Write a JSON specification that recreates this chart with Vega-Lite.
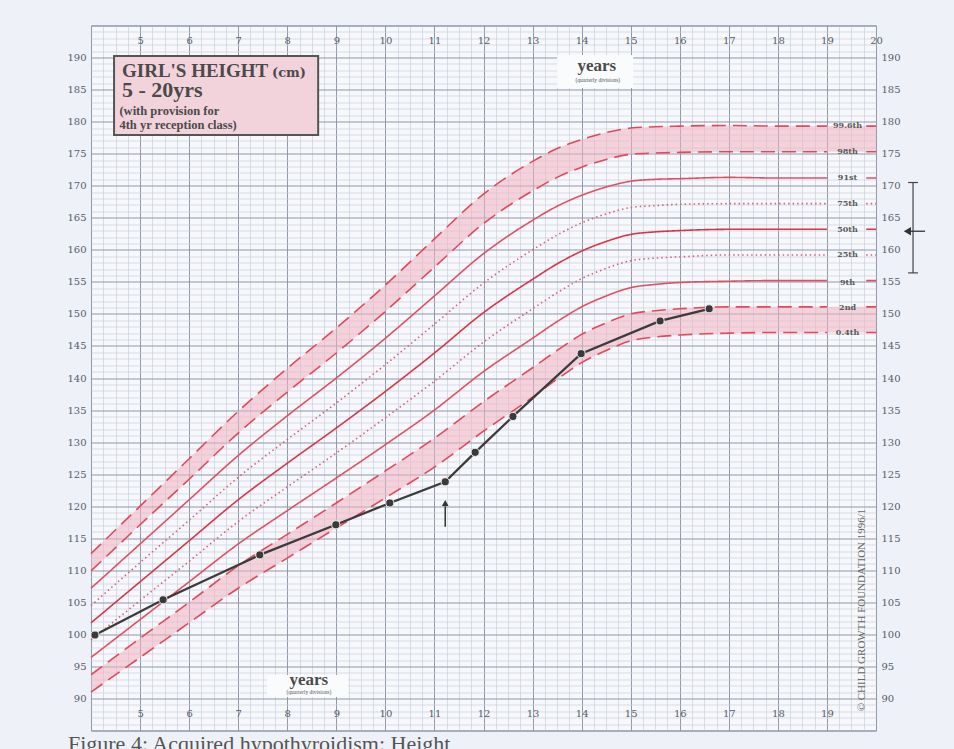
{
  "$schema": "https://vega.github.io/schema/vega-lite/v6.json",
  "width": 785,
  "height": 705,
  "autosize": {"type": "none"},
  "padding": {"left": 91, "top": 25.5, "right": 78, "bottom": 18.5},
  "background": "#eef2f8",
  "config": {
    "view": {"fill": "#f6f8fb", "stroke": "#8a93a6", "strokeWidth": 1},
    "text": {"font": "Liberation Serif"}
  },
  "datasets": {
    "curves": [
      {"age": 4, "p996": 112.6, "p98": 109.9, "p91": 107.2, "p75": 104.5, "p50": 101.8, "p25": 99.1, "p9": 96.4, "p2": 93.7, "p04": 91.0},
      {"age": 5, "p996": 120.0, "p98": 117.1, "p91": 114.1, "p75": 111.2, "p50": 108.2, "p25": 105.3, "p9": 102.3, "p2": 99.4, "p04": 96.4},
      {"age": 6, "p996": 127.4, "p98": 124.2, "p91": 121.0, "p75": 117.8, "p50": 114.6, "p25": 111.4, "p9": 108.2, "p2": 105.0, "p04": 101.8},
      {"age": 7, "p996": 134.8, "p98": 131.4, "p91": 127.9, "p75": 124.5, "p50": 121.0, "p25": 117.6, "p9": 114.1, "p2": 110.7, "p04": 107.2},
      {"age": 8, "p996": 141.5, "p98": 137.8, "p91": 134.1, "p75": 130.4, "p50": 126.7, "p25": 123.0, "p9": 119.3, "p2": 115.6, "p04": 111.9},
      {"age": 9, "p996": 147.8, "p98": 143.9, "p91": 140.0, "p75": 136.1, "p50": 132.2, "p25": 128.3, "p9": 124.4, "p2": 120.5, "p04": 116.6},
      {"age": 10, "p996": 154.5, "p98": 150.4, "p91": 146.2, "p75": 142.1, "p50": 137.9, "p25": 133.8, "p9": 129.6, "p2": 125.5, "p04": 121.3},
      {"age": 11, "p996": 161.7, "p98": 157.3, "p91": 152.8, "p75": 148.4, "p50": 143.9, "p25": 139.5, "p9": 135.0, "p2": 130.6, "p04": 126.1},
      {"age": 12, "p996": 168.7, "p98": 164.1, "p91": 159.4, "p75": 154.8, "p50": 150.2, "p25": 145.6, "p9": 141.0, "p2": 136.3, "p04": 131.7},
      {"age": 13, "p996": 173.8, "p98": 169.2, "p91": 164.6, "p75": 160.0, "p50": 155.4, "p25": 150.8, "p9": 146.2, "p2": 141.6, "p04": 137.0},
      {"age": 13.5, "p996": 175.8, "p98": 171.3, "p91": 166.8, "p75": 162.3, "p50": 157.8, "p25": 153.3, "p9": 148.8, "p2": 144.3, "p04": 139.8},
      {"age": 14, "p996": 177.2, "p98": 172.9, "p91": 168.5, "p75": 164.2, "p50": 159.8, "p25": 155.5, "p9": 151.1, "p2": 146.8, "p04": 142.4},
      {"age": 14.5, "p996": 178.3, "p98": 174.1, "p91": 169.8, "p75": 165.6, "p50": 161.3, "p25": 157.1, "p9": 152.8, "p2": 148.6, "p04": 144.3},
      {"age": 15, "p996": 179.0, "p98": 174.9, "p91": 170.7, "p75": 166.6, "p50": 162.4, "p25": 158.3, "p9": 154.1, "p2": 150.0, "p04": 145.8},
      {"age": 15.5, "p996": 179.2, "p98": 175.1, "p91": 171.0, "p75": 166.9, "p50": 162.8, "p25": 158.7, "p9": 154.6, "p2": 150.5, "p04": 146.4},
      {"age": 16, "p996": 179.3, "p98": 175.2, "p91": 171.1, "p75": 167.1, "p50": 163.0, "p25": 158.9, "p9": 154.9, "p2": 150.8, "p04": 146.7},
      {"age": 17, "p996": 179.4, "p98": 175.3, "p91": 171.3, "p75": 167.2, "p50": 163.2, "p25": 159.2, "p9": 155.1, "p2": 151.1, "p04": 147.0},
      {"age": 18, "p996": 179.3, "p98": 175.3, "p91": 171.2, "p75": 167.2, "p50": 163.2, "p25": 159.2, "p9": 155.2, "p2": 151.1, "p04": 147.1},
      {"age": 19, "p996": 179.3, "p98": 175.3, "p91": 171.2, "p75": 167.2, "p50": 163.2, "p25": 159.2, "p9": 155.2, "p2": 151.1, "p04": 147.1},
      {"age": 19.4, "p996": null, "p98": null, "p91": null, "p75": null, "p50": null, "p25": null, "p9": null, "p2": null, "p04": null},
      {"age": 19.8, "p996": 179.3, "p98": 175.3, "p91": 171.2, "p75": 167.2, "p50": 163.2, "p25": 159.2, "p9": 155.2, "p2": 151.1, "p04": 147.1},
      {"age": 20, "p996": 179.3, "p98": 175.3, "p91": 171.2, "p75": 167.2, "p50": 163.2, "p25": 159.2, "p9": 155.2, "p2": 151.1, "p04": 147.1}
    ],
    "bands": [
      {"age": 4, "p996": 112.6, "p98": 109.9, "p2": 93.7, "p04": 91.0},
      {"age": 5, "p996": 120.0, "p98": 117.1, "p2": 99.4, "p04": 96.4},
      {"age": 6, "p996": 127.4, "p98": 124.2, "p2": 105.0, "p04": 101.8},
      {"age": 7, "p996": 134.8, "p98": 131.4, "p2": 110.7, "p04": 107.2},
      {"age": 8, "p996": 141.5, "p98": 137.8, "p2": 115.6, "p04": 111.9},
      {"age": 9, "p996": 147.8, "p98": 143.9, "p2": 120.5, "p04": 116.6},
      {"age": 10, "p996": 154.5, "p98": 150.4, "p2": 125.5, "p04": 121.3},
      {"age": 11, "p996": 161.7, "p98": 157.3, "p2": 130.6, "p04": 126.1},
      {"age": 12, "p996": 168.7, "p98": 164.1, "p2": 136.3, "p04": 131.7},
      {"age": 13, "p996": 173.8, "p98": 169.2, "p2": 141.6, "p04": 137.0},
      {"age": 13.5, "p996": 175.8, "p98": 171.3, "p2": 144.3, "p04": 139.8},
      {"age": 14, "p996": 177.2, "p98": 172.9, "p2": 146.8, "p04": 142.4},
      {"age": 14.5, "p996": 178.3, "p98": 174.1, "p2": 148.6, "p04": 144.3},
      {"age": 15, "p996": 179.0, "p98": 174.9, "p2": 150.0, "p04": 145.8},
      {"age": 15.5, "p996": 179.2, "p98": 175.1, "p2": 150.5, "p04": 146.4},
      {"age": 16, "p996": 179.3, "p98": 175.2, "p2": 150.8, "p04": 146.7},
      {"age": 17, "p996": 179.4, "p98": 175.3, "p2": 151.1, "p04": 147.0},
      {"age": 18, "p996": 179.3, "p98": 175.3, "p2": 151.1, "p04": 147.1},
      {"age": 20, "p996": 179.3, "p98": 175.3, "p2": 151.1, "p04": 147.1}
    ],
    "labels": [
      {"pct": "99.6th", "h": 179.3},
      {"pct": "98th", "h": 175.3},
      {"pct": "91st", "h": 171.2},
      {"pct": "75th", "h": 167.1},
      {"pct": "50th", "h": 163.1},
      {"pct": "25th", "h": 159.2},
      {"pct": "9th", "h": 154.9},
      {"pct": "2nd", "h": 151.0},
      {"pct": "0.4th", "h": 147.0}
    ],
    "patient": [
      {"age": 4.08, "height": 99.9},
      {"age": 5.47, "height": 105.4},
      {"age": 7.44, "height": 112.4},
      {"age": 8.99, "height": 117.1},
      {"age": 10.09, "height": 120.5},
      {"age": 11.22, "height": 123.8},
      {"age": 11.83, "height": 128.4},
      {"age": 12.6, "height": 134.0},
      {"age": 13.99, "height": 143.8},
      {"age": 15.6, "height": 148.9},
      {"age": 16.6, "height": 150.8}
    ]
  },
  "resolve": {"axis": {"x": "independent", "y": "independent"}},
  "layer": [
    {
      "data": {"name": "bands"},
      "mark": {"type": "area", "interpolate": "monotone", "fill": "#f3b3c3", "opacity": 0.55},
      "encoding": {
        "x": {
          "field": "age", "type": "quantitative",
          "scale": {"domain": [4, 20], "nice": false, "zero": false},
          "axis": {
            "orient": "bottom", "offset": -24, "title": null, "grid": true, "ticks": false, "domain": false,
            "values": [4,4.25,4.5,4.75,5,5.25,5.5,5.75,6,6.25,6.5,6.75,7,7.25,7.5,7.75,8,8.25,8.5,8.75,9,9.25,9.5,9.75,10,10.25,10.5,10.75,11,11.25,11.5,11.75,12,12.25,12.5,12.75,13,13.25,13.5,13.75,14,14.25,14.5,14.75,15,15.25,15.5,15.75,16,16.25,16.5,16.75,17,17.25,17.5,17.75,18,18.25,18.5,18.75,19,19.25,19.5,19.75,20],
            "labelExpr": "datum.value % 1 === 0 && datum.value >= 5 && datum.value <= 19 ? format(datum.value, 'd') : ''",
            "labelOverlap": false, "labelBound": false, "labelFlush": false, "labelPadding": 2,
            "labelFont": "DejaVu Serif", "labelFontSize": 10, "labelColor": "#565c68",
            "gridColor": {"condition": {"test": "datum.value % 1 === 0", "value": "#8f98ab"}, "value": "#cbd0db"},
            "gridWidth": {"condition": {"test": "datum.value % 1 === 0", "value": 1}, "value": 0.7}
          }
        },
        "y": {
          "field": "p98", "type": "quantitative",
          "scale": {"domain": [85, 195], "nice": false, "zero": false},
          "axis": {
            "orient": "left", "title": null, "grid": true, "ticks": false, "domain": false,
            "values": [85,86,87,88,89,90,91,92,93,94,95,96,97,98,99,100,101,102,103,104,105,106,107,108,109,110,111,112,113,114,115,116,117,118,119,120,121,122,123,124,125,126,127,128,129,130,131,132,133,134,135,136,137,138,139,140,141,142,143,144,145,146,147,148,149,150,151,152,153,154,155,156,157,158,159,160,161,162,163,164,165,166,167,168,169,170,171,172,173,174,175,176,177,178,179,180,181,182,183,184,185,186,187,188,189,190,191,192,193,194,195],
            "labelExpr": "datum.value % 5 === 0 && datum.value >= 90 && datum.value <= 190 ? format(datum.value, 'd') : ''",
            "labelOverlap": false, "labelBound": false, "labelFlush": false, "labelPadding": 5,
            "labelFont": "DejaVu Serif", "labelFontSize": 10, "labelColor": "#565c68",
            "gridColor": {"condition": {"test": "datum.value % 5 === 0", "value": "#8f98ab"}, "value": "#cbd0db"},
            "gridWidth": {"condition": {"test": "datum.value % 5 === 0", "value": 1}, "value": 0.7}
          }
        },
        "y2": {"field": "p996"}
      }
    },
    {
      "data": {"name": "bands"},
      "mark": {"type": "area", "interpolate": "monotone", "fill": "#f3b3c3", "opacity": 0.55},
      "encoding": {
        "x": {"field": "age", "type": "quantitative", "scale": {"domain": [4, 20], "nice": false, "zero": false}, "axis": null},
        "y": {"field": "p04", "type": "quantitative", "scale": {"domain": [85, 195], "nice": false, "zero": false}, "axis": null},
        "y2": {"field": "p2"}
      }
    },
    {
      "data": {"name": "curves"},
      "transform": [{"fold": ["p996", "p98", "p91", "p75", "p50", "p25", "p9", "p2", "p04"], "as": ["pct", "h"]}],
      "mark": {"type": "line", "interpolate": "monotone"},
      "encoding": {
        "x": {
          "field": "age", "type": "quantitative",
          "scale": {"domain": [4, 20], "nice": false, "zero": false},
          "axis": {
            "orient": "top", "offset": -22, "title": null, "grid": false, "ticks": false, "domain": false,
            "values": [5,6,7,8,9,10,11,12,13,14,15,16,17,18,19,20],
            "labelExpr": "format(datum.value, 'd')",
            "labelOverlap": false, "labelBound": false, "labelFlush": false, "labelPadding": 2,
            "labelFont": "DejaVu Serif", "labelFontSize": 10, "labelColor": "#565c68"
          }
        },
        "y": {
          "field": "h", "type": "quantitative",
          "scale": {"domain": [85, 195], "nice": false, "zero": false},
          "axis": {
            "orient": "right", "title": null, "grid": false, "ticks": false, "domain": false,
            "values": [90,95,100,105,110,115,120,125,130,135,140,145,150,155,160,165,170,175,180,185,190],
            "labelExpr": "format(datum.value, 'd')",
            "labelOverlap": false, "labelBound": false, "labelFlush": false, "labelPadding": 5,
            "labelFont": "DejaVu Serif", "labelFontSize": 10, "labelColor": "#565c68"
          }
        },
        "detail": {"field": "pct", "type": "nominal"},
        "strokeDash": {
          "field": "pct", "type": "nominal", "legend": null,
          "scale": {"domain": ["p996", "p98", "p91", "p75", "p50", "p25", "p9", "p2", "p04"],
                    "range": [[14, 7], [14, 7], [1, 0], [1.5, 3], [1, 0], [1.5, 3], [1, 0], [14, 7], [14, 7]]}
        },
        "strokeWidth": {
          "field": "pct", "type": "nominal", "legend": null,
          "scale": {"domain": ["p996", "p98", "p91", "p75", "p50", "p25", "p9", "p2", "p04"],
                    "range": [1.6, 1.6, 1.2, 1.3, 2.1, 1.3, 1.2, 1.6, 1.6]}
        },
        "color": {
          "field": "pct", "type": "nominal", "legend": null,
          "scale": {"domain": ["p996", "p98", "p91", "p75", "p50", "p25", "p9", "p2", "p04"],
                    "range": ["#e2485d", "#e2485d", "#e05065", "#d8607c", "#d8344a", "#d8607c", "#e05065", "#e2485d", "#e2485d"]}
        }
      }
    },
    {
      "data": {"name": "labels"},
      "mark": {"type": "text", "font": "DejaVu Serif", "fontWeight": "bold", "fontSize": 8, "fill": "#5a5a5a", "align": "center", "baseline": "middle"},
      "encoding": {
        "x": {"datum": 19.42, "type": "quantitative", "scale": {"domain": [4, 20], "nice": false, "zero": false}, "axis": null},
        "y": {"field": "h", "type": "quantitative", "scale": {"domain": [85, 195], "nice": false, "zero": false}, "axis": null},
        "text": {"field": "pct", "type": "nominal"}
      }
    },
    {
      "data": {"name": "patient"},
      "mark": {"type": "line", "color": "#3b3b3b", "strokeWidth": 2.3},
      "encoding": {
        "x": {"field": "age", "type": "quantitative", "scale": {"domain": [4, 20], "nice": false, "zero": false}, "axis": null},
        "y": {"field": "height", "type": "quantitative", "scale": {"domain": [85, 195], "nice": false, "zero": false}, "axis": null}
      }
    },
    {
      "data": {"name": "patient"},
      "mark": {"type": "point", "filled": true, "size": 65, "color": "#3a3a3a", "stroke": "#eeeeee", "strokeWidth": 1, "opacity": 1},
      "encoding": {
        "x": {"field": "age", "type": "quantitative", "scale": {"domain": [4, 20], "nice": false, "zero": false}, "axis": null},
        "y": {"field": "height", "type": "quantitative", "scale": {"domain": [85, 195], "nice": false, "zero": false}, "axis": null}
      }
    },
    {
      "data": {"values": [{}]},
      "mark": {"type": "rule", "color": "#333333", "strokeWidth": 1.5},
      "encoding": {
        "x": {"datum": 11.22, "type": "quantitative", "axis": null},
        "y": {"datum": 116.8, "type": "quantitative", "axis": null},
        "y2": {"datum": 120.0}
      }
    },
    {
      "data": {"values": [{}]},
      "mark": {"type": "point", "shape": "triangle-up", "filled": true, "size": 45, "color": "#333333", "opacity": 1},
      "encoding": {
        "x": {"datum": 11.22, "type": "quantitative", "axis": null},
        "y": {"datum": 120.5, "type": "quantitative", "axis": null}
      }
    },
    {
      "data": {"values": [{}]},
      "mark": {"type": "rule", "color": "#444444", "strokeWidth": 1.2},
      "encoding": {
        "x": {"datum": 20.755, "type": "quantitative", "axis": null},
        "y": {"datum": 156.4, "type": "quantitative", "axis": null},
        "y2": {"datum": 170.5}
      }
    },
    {
      "data": {"values": [{}]},
      "mark": {"type": "rule", "color": "#444444", "strokeWidth": 1.2},
      "encoding": {
        "x": {"datum": 20.655, "type": "quantitative", "axis": null},
        "x2": {"datum": 20.855},
        "y": {"datum": 170.5, "type": "quantitative", "axis": null}
      }
    },
    {
      "data": {"values": [{}]},
      "mark": {"type": "rule", "color": "#444444", "strokeWidth": 1.2},
      "encoding": {
        "x": {"datum": 20.655, "type": "quantitative", "axis": null},
        "x2": {"datum": 20.855},
        "y": {"datum": 156.4, "type": "quantitative", "axis": null}
      }
    },
    {
      "data": {"values": [{}]},
      "mark": {"type": "rule", "color": "#333333", "strokeWidth": 1.3},
      "encoding": {
        "x": {"datum": 20.7, "type": "quantitative", "axis": null},
        "x2": {"datum": 21.0},
        "y": {"datum": 162.9, "type": "quantitative", "axis": null}
      }
    },
    {
      "data": {"values": [{}]},
      "mark": {"type": "point", "shape": "triangle-left", "filled": true, "size": 70, "color": "#333333", "opacity": 1},
      "encoding": {
        "x": {"datum": 20.64, "type": "quantitative", "axis": null},
        "y": {"datum": 162.9, "type": "quantitative", "axis": null}
      }
    },
    {
      "data": {"values": [{}]},
      "mark": {"type": "rect", "fill": "#fafbfd"},
      "encoding": {
        "x": {"datum": 13.5, "type": "quantitative", "axis": null},
        "x2": {"datum": 15.05},
        "y": {"datum": 185.25, "type": "quantitative", "axis": null},
        "y2": {"datum": 190.4}
      }
    },
    {
      "data": {"values": [{}]},
      "mark": {"type": "rect", "fill": "#fafbfd"},
      "encoding": {
        "x": {"datum": 7.59, "type": "quantitative", "axis": null},
        "x2": {"datum": 9.24},
        "y": {"datum": 90.23, "type": "quantitative", "axis": null},
        "y2": {"datum": 93.67}
      }
    },
    {
      "data": {"values": [{}]},
      "mark": {"type": "text", "text": "years", "font": "Liberation Serif", "fontWeight": "bold", "fontSize": 17, "fill": "#4a4a4a", "align": "center", "baseline": "alphabetic"},
      "encoding": {
        "x": {"datum": 14.31, "type": "quantitative", "axis": null},
        "y": {"datum": 187.9, "type": "quantitative", "axis": null}
      }
    },
    {
      "data": {"values": [{}]},
      "mark": {"type": "text", "text": "(quarterly divisions)", "font": "Liberation Serif", "fontSize": 5.5, "fill": "#555555", "align": "center", "baseline": "alphabetic"},
      "encoding": {
        "x": {"datum": 14.33, "type": "quantitative", "axis": null},
        "y": {"datum": 186.2, "type": "quantitative", "axis": null}
      }
    },
    {
      "data": {"values": [{}]},
      "mark": {"type": "text", "text": "years", "font": "Liberation Serif", "fontWeight": "bold", "fontSize": 17, "fill": "#4a4a4a", "align": "center", "baseline": "alphabetic"},
      "encoding": {
        "x": {"datum": 8.44, "type": "quantitative", "axis": null},
        "y": {"datum": 92.1, "type": "quantitative", "axis": null}
      }
    },
    {
      "data": {"values": [{}]},
      "mark": {"type": "text", "text": "(quarterly divisions)", "font": "Liberation Serif", "fontSize": 5.5, "fill": "#555555", "align": "center", "baseline": "alphabetic"},
      "encoding": {
        "x": {"datum": 8.44, "type": "quantitative", "axis": null},
        "y": {"datum": 90.65, "type": "quantitative", "axis": null}
      }
    },
    {
      "data": {"values": [{}]},
      "mark": {"type": "text", "text": "© CHILD GROWTH FOUNDATION 1996/1", "font": "Liberation Serif", "fontSize": 11, "fill": "#666666", "align": "center", "baseline": "middle", "angle": 270},
      "encoding": {
        "x": {"datum": 19.715, "type": "quantitative", "axis": null},
        "y": {"datum": 103.8, "type": "quantitative", "axis": null}
      }
    },
    {
      "data": {"values": [{}]},
      "mark": {"type": "rect", "fill": "#f2d3dc", "stroke": "#555555", "strokeWidth": 2},
      "encoding": {
        "x": {"datum": 4.47, "type": "quantitative", "axis": null},
        "x2": {"datum": 8.63},
        "y": {"datum": 177.9, "type": "quantitative", "axis": null},
        "y2": {"datum": 190.24}
      }
    },
    {
      "data": {"values": [{}]},
      "mark": {"type": "text", "text": "GIRL'S HEIGHT", "font": "Liberation Serif", "fontWeight": "bold", "fontSize": 19, "fill": "#4a4a4a", "align": "left", "baseline": "alphabetic"},
      "encoding": {
        "x": {"datum": 4.632, "type": "quantitative", "axis": null},
        "y": {"datum": 187.0, "type": "quantitative", "axis": null}
      }
    },
    {
      "data": {"values": [{}]},
      "mark": {"type": "text", "text": "(cm)", "font": "DejaVu Serif", "fontWeight": "bold", "fontSize": 13, "fill": "#4a4a4a", "align": "left", "baseline": "alphabetic"},
      "encoding": {
        "x": {"datum": 7.69, "type": "quantitative", "axis": null},
        "y": {"datum": 187.0, "type": "quantitative", "axis": null}
      }
    },
    {
      "data": {"values": [{}]},
      "mark": {"type": "text", "text": "5 - 20yrs", "font": "Liberation Serif", "fontWeight": "bold", "fontSize": 22, "fill": "#4a4a4a", "align": "left", "baseline": "alphabetic"},
      "encoding": {
        "x": {"datum": 4.632, "type": "quantitative", "axis": null},
        "y": {"datum": 183.8, "type": "quantitative", "axis": null}
      }
    },
    {
      "data": {"values": [{}]},
      "mark": {"type": "text", "text": ["(with provision for", "4th yr reception class)"], "lineHeight": 14, "font": "Liberation Serif", "fontWeight": "bold", "fontSize": 12.5, "fill": "#4a4a4a", "align": "left", "baseline": "alphabetic"},
      "encoding": {
        "x": {"datum": 4.58, "type": "quantitative", "axis": null},
        "y": {"datum": 181.1, "type": "quantitative", "axis": null}
      }
    },
    {
      "data": {"values": [{}]},
      "mark": {"type": "text", "text": "Figure 4: Acquired hypothyroidism: Height", "font": "Liberation Serif", "fontSize": 22, "fill": "#555555", "align": "left", "baseline": "alphabetic"},
      "encoding": {
        "x": {"datum": 3.53, "type": "quantitative", "axis": null},
        "y": {"datum": 81.82, "type": "quantitative", "axis": null}
      }
    }
  ]
}
